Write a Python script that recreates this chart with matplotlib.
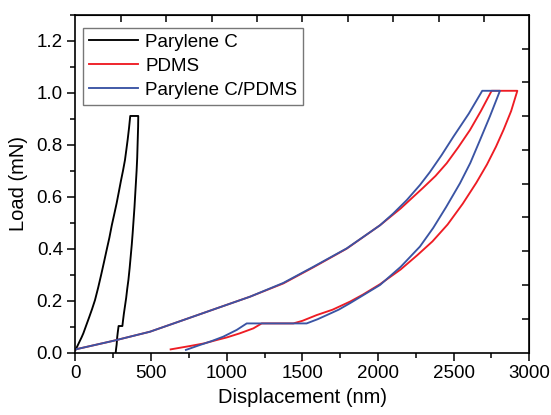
import matplotlib
matplotlib.use("Agg")
import matplotlib.pyplot as plt
from matplotlib.ticker import MultipleLocator, NullFormatter

# ---- data ----
parylene_x = [0, 12, 25, 40, 52, 70, 90, 110, 129, 150, 170, 188, 206, 224, 240, 256, 272, 286, 300,
              314, 327, 336, 345, 354, 362,
              415, 414, 412, 408, 404, 400, 395, 390, 384, 378, 372, 365, 358, 350, 342, 335, 327, 320, 314, 310,
              285, 280, 276, 272, 268, 266]
parylene_y = [0.01, 0.024, 0.04, 0.058, 0.074, 0.103, 0.135, 0.168, 0.202, 0.25, 0.30, 0.347, 0.395, 0.442, 0.49,
              0.532, 0.575, 0.617, 0.66, 0.70, 0.741, 0.78, 0.82, 0.865, 0.911,
              0.911, 0.87, 0.83, 0.75, 0.70, 0.66, 0.61, 0.56, 0.51, 0.46, 0.415, 0.37, 0.325, 0.28, 0.245,
              0.21, 0.178, 0.15, 0.122, 0.102,
              0.102, 0.08, 0.06, 0.03, 0.012, 0.0]

pdms_x = [0, 250, 492, 713, 933, 1154, 1374, 1572, 1793, 2013, 2150, 2299, 2380, 2454, 2530, 2608, 2680, 2751,
          2921, 2880, 2830, 2780, 2720, 2650, 2560, 2460, 2360, 2260, 2150, 2013, 1900, 1815,
          1700, 1594, 1500, 1440, 1231, 1176, 1087, 1000, 933, 850, 757, 629]
pdms_y = [0.012, 0.045, 0.080, 0.125, 0.170, 0.215, 0.266, 0.328, 0.400, 0.49, 0.555, 0.635, 0.68, 0.729,
          0.79, 0.857, 0.93, 1.008,
          1.008, 0.93, 0.858, 0.793, 0.724, 0.654, 0.573, 0.493, 0.428, 0.375, 0.32, 0.263, 0.223, 0.196,
          0.165, 0.144, 0.122, 0.112, 0.112, 0.093, 0.074, 0.058, 0.048, 0.035, 0.025, 0.012]

comp_x = [0, 250, 492, 713, 933, 1154, 1374, 1572, 1793, 2013, 2100, 2190, 2277, 2343, 2420, 2498, 2600, 2689,
          2806, 2740, 2674, 2610, 2542, 2450, 2365, 2277, 2150, 2013, 1900, 1815, 1740, 1661,
          1600, 1528, 1132, 1066, 977, 900, 823, 730]
comp_y = [0.012, 0.045, 0.080, 0.125, 0.170, 0.215, 0.268, 0.330, 0.401, 0.49, 0.535, 0.587, 0.645, 0.695,
          0.76, 0.831, 0.92, 1.008,
          1.008, 0.91, 0.818, 0.73, 0.652, 0.56, 0.48, 0.408, 0.33, 0.26, 0.22, 0.19, 0.165, 0.144,
          0.128, 0.112, 0.112, 0.087, 0.061, 0.044, 0.029, 0.010]

labels = ["Parylene C", "PDMS", "Parylene C/PDMS"]
colors = ["#000000", "#ee1c24", "#3a54a4"]

plt.rcParams['font.family'] = ['Liberation Sans', 'DejaVu Sans']

fig = plt.figure(figsize=(5.51, 4.15), dpi=100)
ax = fig.add_axes([0.137, 0.1506, 0.8236, 0.8133])

for xs, ys, lab, c in zip([parylene_x, pdms_x, comp_x], [parylene_y, pdms_y, comp_y], labels, colors):
    ax.plot(xs, ys, color=c, lw=1.35, label=lab)

ax.set_xlim(0, 3000)
ax.set_ylim(0, 1.3)
ax.xaxis.set_major_locator(MultipleLocator(500))
ax.xaxis.set_minor_locator(MultipleLocator(250))
ax.yaxis.set_major_locator(MultipleLocator(0.2))
ax.yaxis.set_minor_locator(MultipleLocator(0.1))
ax.yaxis.set_major_formatter(matplotlib.ticker.FormatStrFormatter('%.1f'))
ax.tick_params(which='major', direction='out', length=6, width=1.1, labelsize=13.5, pad=3)
ax.tick_params(which='minor', direction='out', length=3.5, width=1.1)
for s in ax.spines.values():
    s.set_linewidth(1.2)

# top / right inward ticks
top = ax.secondary_xaxis('top')
top.set_xticks([300 * i for i in range(1, 10)])
top.xaxis.set_major_formatter(NullFormatter())
top.tick_params(direction='in', length=5, width=1.1)
right = ax.secondary_yaxis('right')
right.set_yticks([0.13 * i for i in range(1, 10)])
right.yaxis.set_major_formatter(NullFormatter())
right.tick_params(direction='in', length=5, width=1.1)

ax.set_xlabel("Displacement (nm)", fontsize=14.5, labelpad=4)
ax.set_ylabel("Load (mN)", fontsize=14.5, labelpad=6)

leg = ax.legend(loc='upper left', bbox_to_anchor=(0.017, 0.962), fontsize=13.5,
                frameon=True, fancybox=False, edgecolor='#777777', framealpha=1,
                handlelength=2.6, handletextpad=0.4, borderpad=0.3, labelspacing=0.38,
                borderaxespad=0)
leg.get_frame().set_linewidth(1.0)

fig.savefig("out.png", dpi=100)
